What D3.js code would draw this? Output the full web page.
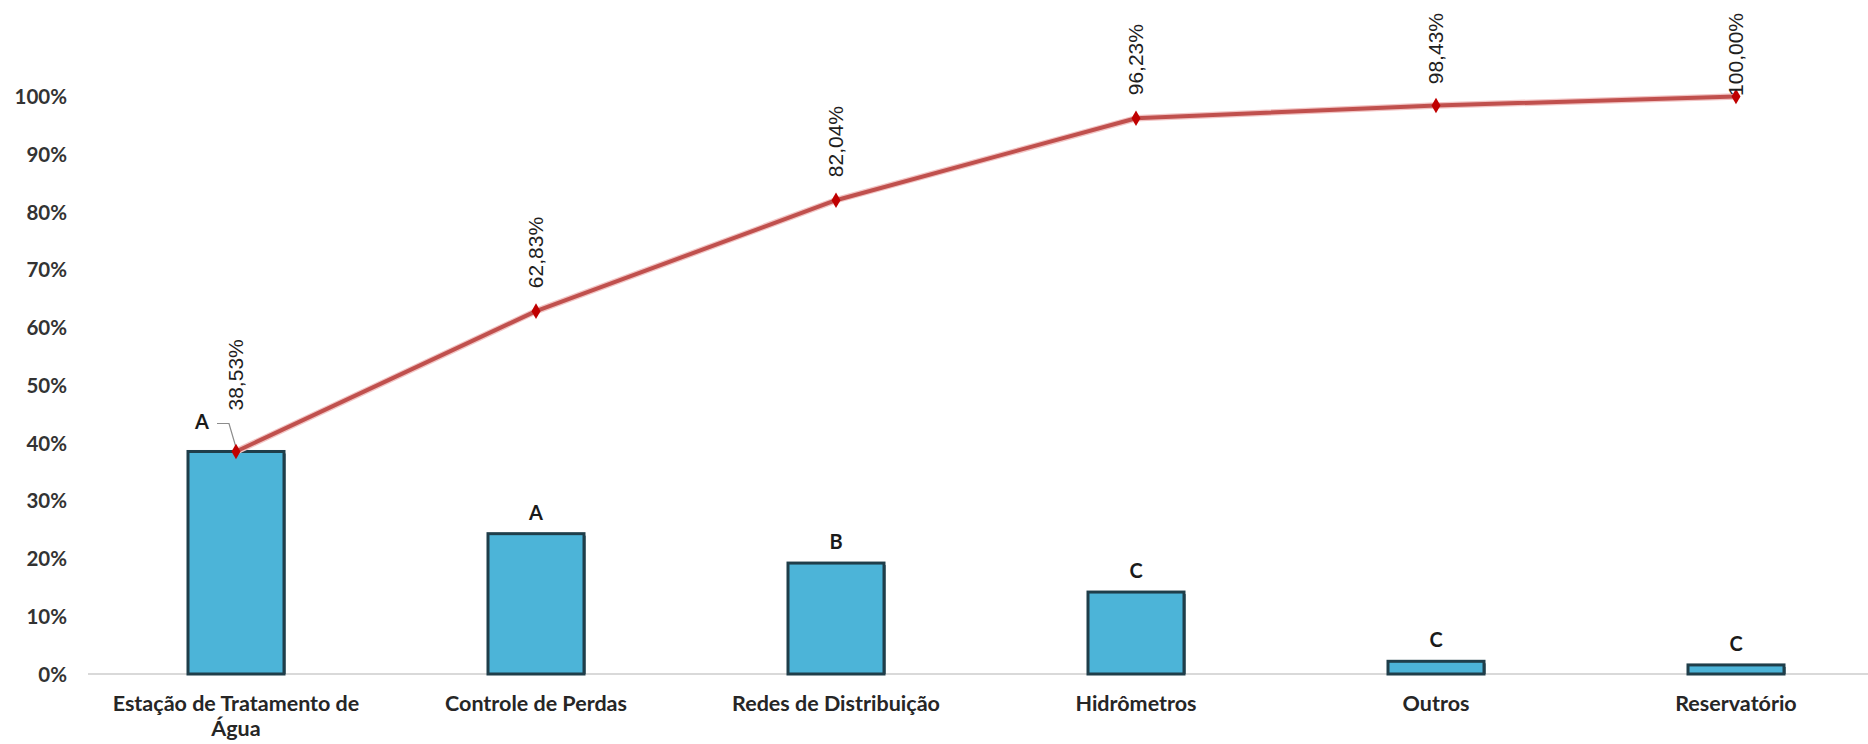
<!DOCTYPE html>
<html>
<head>
<meta charset="utf-8">
<script src="https://cdn.jsdelivr.net/npm/d3@7"></script>
<style>
  html, body { margin: 0; padding: 0; background: #ffffff; }
  svg { display: block; }
</style>
</head>
<body>
<svg id="chart" width="1868" height="744"></svg>
<script>
// Pareto chart: share of each item (bars) and cumulative share (line)
const categories = [
  "Estação de Tratamento de Água",
  "Controle de Perdas",
  "Redes de Distribuição",
  "Hidrômetros",
  "Outros",
  "Reservatório"
];
const shareValues = [38.53, 24.30, 19.21, 14.19, 2.20, 1.57];
const cumulativeValues = [38.53, 62.83, 82.04, 96.23, 98.43, 100.00];
const classLabels = ["A", "A", "B", "C", "C", "C"];
const yTickValues = [0, 10, 20, 30, 40, 50, 60, 70, 80, 90, 100];

const W = 1868, H = 744;
const svg = d3.select("#chart");

const ptBR = d3.formatLocale({ decimal: ",", thousands: ".", grouping: [3], currency: ["R$", ""] });
const fmtCum = ptBR.format(".2f");

const x = d3.scaleBand()
  .domain(categories)
  .range([86, 1886])
  .paddingInner(0.68)
  .paddingOuter(0.34);

const y = d3.scaleLinear().domain([0, 100]).range([674, 96.5]);

const xc = d => x(d) + x.bandwidth() / 2;

// y axis labels
const yAxis = d3.axisLeft(y)
  .tickValues(yTickValues)
  .tickSize(0)
  .tickPadding(0)
  .tickFormat(d => d + "%");
const gy = svg.append("g").attr("transform", "translate(67,0)").call(yAxis);
gy.select(".domain").remove();
gy.selectAll("text")
  .attr("font-family", "Lato, 'Open Sans', sans-serif")
  .attr("font-weight", 700)
  .attr("font-size", 20.5)
  .attr("fill", "#333333")
  .attr("dy", "0.35em");

// x axis baseline and category labels
const xAxis = d3.axisBottom(x).tickSize(0).tickFormat("");
const gx = svg.append("g").attr("transform", "translate(0,674)").call(xAxis);
gx.select(".domain")
  .attr("stroke", "#d9d9d9")
  .attr("stroke-width", 2)
  .attr("d", "M88,0H1886");

const catG = svg.append("g")
  .attr("font-family", "Lato, 'Open Sans', sans-serif")
  .attr("font-weight", 700)
  .attr("font-size", 21.5)
  .attr("fill", "#262626")
  .attr("text-anchor", "middle");

categories.forEach(c => {
  const t = catG.append("text").attr("x", xc(c)).attr("y", 711);
  // simple word wrap within the category slot
  const words = c.split(" ");
  let line = [];
  let tspan = t.append("tspan").attr("x", xc(c)).attr("dy", 0);
  words.forEach(w => {
    line.push(w);
    tspan.text(line.join(" "));
    if (tspan.node().getComputedTextLength() > 275 && line.length > 1) {
      line.pop();
      tspan.text(line.join(" "));
      line = [w];
      tspan = t.append("tspan").attr("x", xc(c)).attr("dy", 25).text(w);
    }
  });
});

// bars
const barG = svg.append("g");
categories.forEach((c, i) => {
  const x0 = x(c), bw = x.bandwidth();
  const yTop = y(shareValues[i]);
  const h = y(0) - yTop;
  // soft shadow on the right/bottom edges
  barG.append("rect")
    .attr("x", x0 + 2).attr("y", yTop + 2)
    .attr("width", bw).attr("height", Math.max(h - 2, 0))
    .attr("fill", "#1a3440").attr("opacity", 0.55);
  barG.append("rect")
    .attr("x", x0).attr("y", yTop)
    .attr("width", bw).attr("height", h)
    .attr("fill", "#4cb4d8")
    .attr("stroke", "#1f3e4a")
    .attr("stroke-width", 3);
});

// class letters above the bars
const letterG = svg.append("g")
  .attr("font-family", "Lato, 'Open Sans', sans-serif")
  .attr("font-weight", 700)
  .attr("font-size", 20)
  .attr("fill", "#1a1a1a")
  .attr("text-anchor", "middle");

categories.forEach((c, i) => {
  if (i === 0) {
    // first letter sits to the left with a leader line to the point
    const px = xc(c), py = y(cumulativeValues[0]);
    const lx = px - 34, ly = py - 22;
    svg.append("path")
      .attr("d", `M${lx + 15},${ly - 6}H${lx + 27}L${px},${py - 4}`)
      .attr("fill", "none")
      .attr("stroke", "#8c8c8c")
      .attr("stroke-width", 1.2);
    letterG.append("text").attr("x", lx).attr("y", ly).text(classLabels[i]);
  } else {
    letterG.append("text")
      .attr("x", xc(c))
      .attr("y", y(shareValues[i]) - 14)
      .text(classLabels[i]);
  }
});

// cumulative line
const line = d3.line()
  .x((d, i) => xc(categories[i]))
  .y(d => y(d));

svg.append("path")
  .datum(cumulativeValues)
  .attr("d", line)
  .attr("fill", "none")
  .attr("stroke", "#f2c4c4")
  .attr("stroke-width", 6.5)
  .attr("stroke-linejoin", "round");
svg.append("path")
  .datum(cumulativeValues)
  .attr("d", line)
  .attr("fill", "none")
  .attr("stroke", "#c0504d")
  .attr("stroke-width", 4)
  .attr("stroke-linejoin", "round");

const diamond = d3.symbol().type(d3.symbolDiamond).size(70);
svg.append("g").selectAll("path")
  .data(cumulativeValues)
  .join("path")
  .attr("transform", (d, i) => `translate(${xc(categories[i])},${y(d)})`)
  .attr("d", diamond)
  .attr("fill", "#c00000");

// rotated cumulative labels
const cumG = svg.append("g")
  .attr("font-family", "'Liberation Sans', Arial, sans-serif")
  .attr("font-size", 21)
  .attr("fill", "#1f1f1f");

const topLimit = 13;
cumulativeValues.forEach((v, i) => {
  const px = xc(categories[i]), py = y(v);
  const gap = i === 0 ? 41 : 23;
  const t = cumG.append("text")
    .attr("text-anchor", "start")
    .attr("dy", "0.35em")
    .text(fmtCum(v) + "%");
  const len = t.node().getComputedTextLength();
  const base = Math.max(py - gap, topLimit + len);
  t.attr("transform", `translate(${px},${base}) rotate(-90)`);
});
</script>
</body>
</html>
